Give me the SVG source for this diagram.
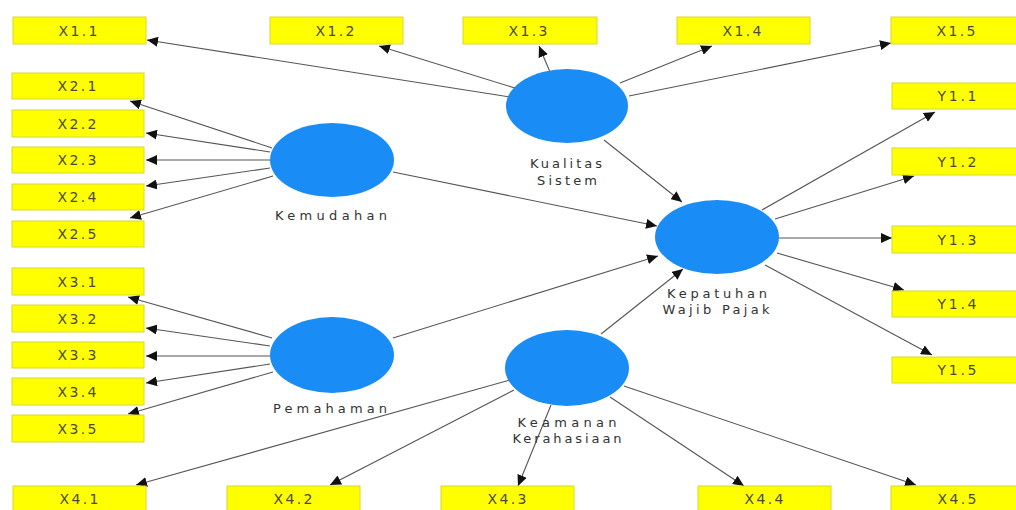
<svg xmlns="http://www.w3.org/2000/svg" width="1016" height="510" viewBox="0 0 1016 510">
<style>
.box{fill:#ffff00;stroke:#d8d830;stroke-width:1}
.bt{font-family:"DejaVu Sans",sans-serif;font-size:14px;fill:#4a4a3a;text-anchor:middle}
.lv{fill:#1a8cf5}
.lt{font-family:"DejaVu Sans",sans-serif;font-size:13px;fill:#333;text-anchor:middle}
.c{stroke:#555;stroke-width:1.1;fill:none;marker-end:url(#ah)}
</style>
<defs>
<marker id="ah" markerUnits="userSpaceOnUse" markerWidth="12" markerHeight="10" refX="11" refY="5" orient="auto">
<path d="M0,0 L11,5 L0,10 z" fill="#111"/>
</marker>
</defs>
<rect width="1016" height="510" fill="#fff"/>
<g id="connectors">
<line class="c" x1="510" y1="97" x2="147" y2="40"/>
<line class="c" x1="515" y1="88" x2="379" y2="46"/>
<line class="c" x1="550" y1="72" x2="539" y2="46"/>
<line class="c" x1="620" y1="83" x2="712" y2="46"/>
<line class="c" x1="629" y1="96" x2="891" y2="43"/>
<line class="c" x1="604" y1="140" x2="682" y2="202"/>
<line class="c" x1="393" y1="172" x2="657" y2="226"/>
<line class="c" x1="393" y1="338" x2="658" y2="256"/>
<line class="c" x1="601" y1="334" x2="683" y2="269"/>
<line class="c" x1="762" y1="210" x2="935" y2="112"/>
<line class="c" x1="775" y1="219" x2="914" y2="176"/>
<line class="c" x1="779" y1="238" x2="892" y2="238"/>
<line class="c" x1="777" y1="253" x2="904" y2="290"/>
<line class="c" x1="765" y1="265" x2="932" y2="355"/>
<line class="c" x1="272" y1="148" x2="130" y2="101"/>
<line class="c" x1="270" y1="152" x2="146" y2="133"/>
<line class="c" x1="270" y1="160" x2="146" y2="160"/>
<line class="c" x1="270" y1="168" x2="146" y2="186"/>
<line class="c" x1="273" y1="176" x2="130" y2="218"/>
<line class="c" x1="272" y1="338" x2="128" y2="297"/>
<line class="c" x1="270" y1="346" x2="146" y2="328"/>
<line class="c" x1="270" y1="356" x2="146" y2="356"/>
<line class="c" x1="270" y1="364" x2="146" y2="383"/>
<line class="c" x1="273" y1="372" x2="128" y2="414"/>
<line class="c" x1="510" y1="380" x2="136" y2="485"/>
<line class="c" x1="514" y1="390" x2="330" y2="485"/>
<line class="c" x1="551" y1="405" x2="518" y2="486"/>
<line class="c" x1="610" y1="397" x2="744" y2="486"/>
<line class="c" x1="624" y1="386" x2="916" y2="485"/>
</g>
<g id="X1.1"><rect class="box" x="13" y="17" width="133" height="27"/><text class="bt" x="78" y="36" textLength="39" lengthAdjust="spacing">X1.1</text></g>
<g id="X1.2"><rect class="box" x="270" y="17" width="133" height="27"/><text class="bt" x="335" y="36" textLength="39" lengthAdjust="spacing">X1.2</text></g>
<g id="X1.3"><rect class="box" x="463" y="17" width="134" height="27"/><text class="bt" x="528" y="36" textLength="39" lengthAdjust="spacing">X1.3</text></g>
<g id="X1.4"><rect class="box" x="677" y="17" width="133" height="27"/><text class="bt" x="742" y="36" textLength="39" lengthAdjust="spacing">X1.4</text></g>
<g id="X1.5"><rect class="box" x="891" y="17" width="133" height="27"/><text class="bt" x="956" y="36" textLength="39" lengthAdjust="spacing">X1.5</text></g>
<g id="X2.1"><rect class="box" x="12" y="73" width="132" height="26"/><text class="bt" x="77" y="91" textLength="39" lengthAdjust="spacing">X2.1</text></g>
<g id="X2.2"><rect class="box" x="12" y="110" width="132" height="27"/><text class="bt" x="77" y="128.5" textLength="39" lengthAdjust="spacing">X2.2</text></g>
<g id="X2.3"><rect class="box" x="12" y="147" width="132" height="26"/><text class="bt" x="77" y="165" textLength="39" lengthAdjust="spacing">X2.3</text></g>
<g id="X2.4"><rect class="box" x="12" y="184" width="132" height="26"/><text class="bt" x="77" y="202" textLength="39" lengthAdjust="spacing">X2.4</text></g>
<g id="X2.5"><rect class="box" x="12" y="221" width="132" height="26"/><text class="bt" x="77" y="239" textLength="39" lengthAdjust="spacing">X2.5</text></g>
<g id="X3.1"><rect class="box" x="12" y="268" width="132" height="27"/><text class="bt" x="77" y="286.5" textLength="39" lengthAdjust="spacing">X3.1</text></g>
<g id="X3.2"><rect class="box" x="12" y="305" width="132" height="27"/><text class="bt" x="77" y="323.5" textLength="39" lengthAdjust="spacing">X3.2</text></g>
<g id="X3.3"><rect class="box" x="12" y="342" width="132" height="26"/><text class="bt" x="77" y="360" textLength="39" lengthAdjust="spacing">X3.3</text></g>
<g id="X3.4"><rect class="box" x="12" y="378" width="132" height="27"/><text class="bt" x="77" y="396.5" textLength="39" lengthAdjust="spacing">X3.4</text></g>
<g id="X3.5"><rect class="box" x="12" y="415" width="132" height="27"/><text class="bt" x="77" y="433.5" textLength="39" lengthAdjust="spacing">X3.5</text></g>
<g id="X4.1"><rect class="box" x="13" y="486" width="133" height="30"/><text class="bt" x="79" y="504" textLength="39" lengthAdjust="spacing">X4.1</text></g>
<g id="X4.2"><rect class="box" x="227" y="486" width="133" height="30"/><text class="bt" x="293" y="504" textLength="39" lengthAdjust="spacing">X4.2</text></g>
<g id="X4.3"><rect class="box" x="441" y="486" width="133" height="30"/><text class="bt" x="507" y="504" textLength="39" lengthAdjust="spacing">X4.3</text></g>
<g id="X4.4"><rect class="box" x="698" y="486" width="133" height="30"/><text class="bt" x="764" y="504" textLength="39" lengthAdjust="spacing">X4.4</text></g>
<g id="X4.5"><rect class="box" x="891" y="486" width="133" height="30"/><text class="bt" x="957" y="504" textLength="39" lengthAdjust="spacing">X4.5</text></g>
<g id="Y1.1"><rect class="box" x="892" y="83" width="132" height="26"/><text class="bt" x="957" y="101" textLength="39" lengthAdjust="spacing">Y1.1</text></g>
<g id="Y1.2"><rect class="box" x="892" y="148" width="132" height="27"/><text class="bt" x="957" y="166.5" textLength="39" lengthAdjust="spacing">Y1.2</text></g>
<g id="Y1.3"><rect class="box" x="892" y="226" width="132" height="27"/><text class="bt" x="957" y="244.5" textLength="39" lengthAdjust="spacing">Y1.3</text></g>
<g id="Y1.4"><rect class="box" x="892" y="291" width="132" height="26"/><text class="bt" x="957" y="309" textLength="39" lengthAdjust="spacing">Y1.4</text></g>
<g id="Y1.5"><rect class="box" x="892" y="357" width="132" height="26"/><text class="bt" x="957" y="375" textLength="39" lengthAdjust="spacing">Y1.5</text></g>
<g id="KualitasSistem"><ellipse class="lv" cx="567" cy="106" rx="61" ry="37"/><text class="lt" x="566" y="168" textLength="72" lengthAdjust="spacing">Kualitas</text><text class="lt" x="567" y="185" textLength="60" lengthAdjust="spacing">Sistem</text></g>
<g id="Kemudahan"><ellipse class="lv" cx="332" cy="160" rx="62" ry="37"/><text class="lt" x="331" y="220" textLength="112" lengthAdjust="spacing">Kemudahan</text></g>
<g id="Pemahaman"><ellipse class="lv" cx="332" cy="355" rx="62" ry="38"/><text class="lt" x="330" y="413" textLength="114" lengthAdjust="spacing">Pemahaman</text></g>
<g id="KepatuhanWajibPajak"><ellipse class="lv" cx="717" cy="237" rx="62" ry="37"/><text class="lt" x="717" y="298" textLength="100" lengthAdjust="spacing">Kepatuhan</text><text class="lt" x="716" y="314" textLength="107" lengthAdjust="spacing">Wajib Pajak</text></g>
<g id="KeamananKerahasiaan"><ellipse class="lv" cx="567" cy="368" rx="62" ry="38"/><text class="lt" x="567" y="427" textLength="99" lengthAdjust="spacing">Keamanan</text><text class="lt" x="567" y="443" textLength="109" lengthAdjust="spacing">Kerahasiaan</text></g>
</svg>
